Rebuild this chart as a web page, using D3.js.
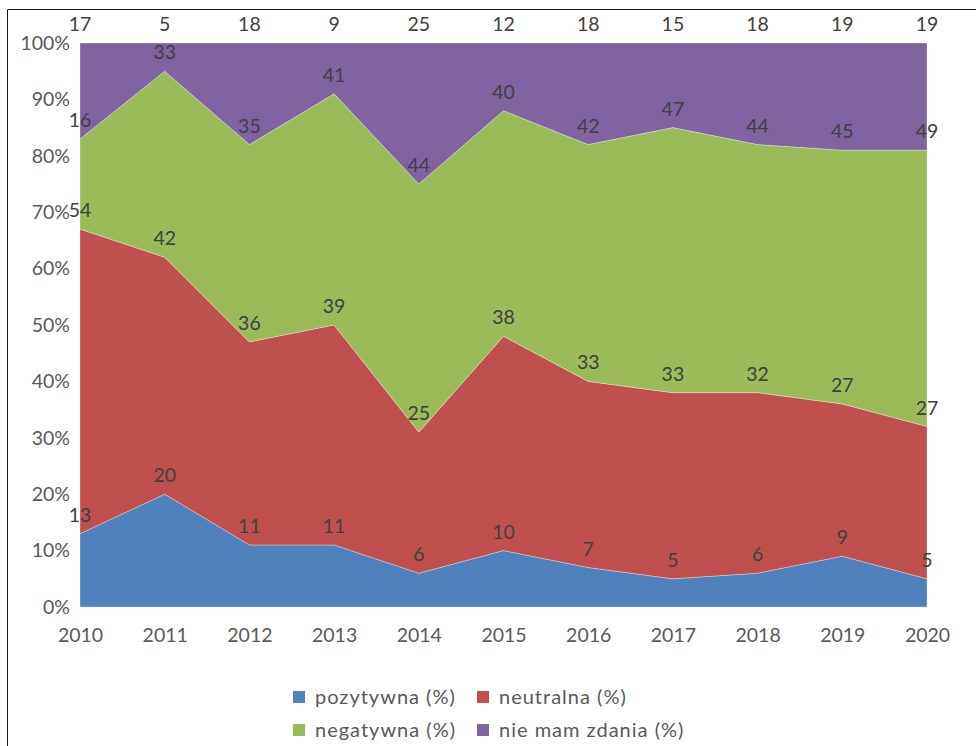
<!DOCTYPE html>
<html>
<head>
<meta charset="utf-8">
<script src="https://cdn.jsdelivr.net/npm/d3@7"></script>
<style>
  body { margin: 0; background: #fff; }
  svg { display: block; font-family: Lato, "Open Sans", sans-serif; }
</style>
</head>
<body>
<div id="chart"></div>
<script>
const years = ['2010', '2011', '2012', '2013', '2014', '2015', '2016', '2017', '2018', '2019', '2020'];
const pozytywna = [13, 20, 11, 11, 6, 10, 7, 5, 6, 9, 5];
const neutralna = [54, 42, 36, 39, 25, 38, 33, 33, 32, 27, 27];
const negatywna = [16, 33, 35, 41, 44, 40, 42, 47, 44, 45, 49];
const nieMamZdania = [17, 5, 18, 9, 25, 12, 18, 15, 18, 19, 19];
const seriesNames = ['pozytywna (%)', 'neutralna (%)', 'negatywna (%)', 'nie mam zdania (%)'];
const yTicks = [0, 10, 20, 30, 40, 50, 60, 70, 80, 90, 100];

const width = 976;
const height = 746;
const colours = ['#4f81bd', '#c0504d', '#9bbb59', '#8064a2'];
const textColour = '#595959';

const svg = d3.select('#chart')
  .append('svg')
  .attr('width', width)
  .attr('height', height);

// frame (only left and top edges are visible)
svg.append('path')
  .attr('d', 'M7.5,' + height + 'V9.5H' + width)
  .attr('fill', 'none')
  .attr('stroke', '#1a1a1a')
  .attr('stroke-width', 1);

const x = d3.scalePoint()
  .domain(years)
  .range([80, 927]);

const y = d3.scaleLinear()
  .domain([0, 100])
  .range([607, 43]);

const table = years.map((yr, i) => ({
  year: yr,
  s0: pozytywna[i],
  s1: neutralna[i],
  s2: negatywna[i],
  s3: nieMamZdania[i]
}));

const stack = d3.stack().keys(['s0', 's1', 's2', 's3']);
const layers = stack(table);

const area = d3.area()
  .x(d => x(d.data.year))
  .y0(d => y(d[0]))
  .y1(d => y(d[1]));

svg.append('g')
  .selectAll('path')
  .data(layers)
  .enter()
  .append('path')
  .attr('d', area)
  .attr('fill', (d, i) => colours[i])
  .attr('stroke', 'rgba(255,255,255,0.3)')
  .attr('stroke-width', 1);

// data labels above each band top
layers.forEach(layer => {
  svg.append('g')
    .selectAll('text')
    .data(layer)
    .enter()
    .append('text')
    .attr('x', d => x(d.data.year))
    .attr('y', d => y(d[1]) - 12)
    .attr('text-anchor', 'middle')
    .attr('fill', '#404040')
    .attr('font-size', '19.5px')
    .text(d => d.data[layer.key]);
});

// y axis
const yAxis = svg.append('g')
  .attr('transform', 'translate(80,0)')
  .call(d3.axisLeft(y).tickValues(yTicks).tickFormat(d => d + '%').tickSize(0).tickPadding(10));
yAxis.select('.domain').remove();
yAxis.selectAll('text')
  .attr('fill', textColour)
  .attr('font-size', '19.5px')
  .attr('font-family', 'Lato, "Open Sans", sans-serif');

// x axis
const xAxis = svg.append('g')
  .attr('transform', 'translate(0,607)')
  .call(d3.axisBottom(x).tickSize(0).tickPadding(21));
xAxis.select('.domain').remove();
xAxis.selectAll('text')
  .attr('fill', textColour)
  .attr('font-size', '19.5px')
  .attr('font-family', 'Lato, "Open Sans", sans-serif');

// legend
const legendPos = [[293, 697], [477, 697], [293, 730], [477, 730]];
const legend = svg.append('g')
  .selectAll('g')
  .data(seriesNames)
  .enter()
  .append('g')
  .attr('transform', (d, i) => 'translate(' + legendPos[i][0] + ',' + legendPos[i][1] + ')');
legend.append('rect')
  .attr('x', 0)
  .attr('y', -6)
  .attr('width', 12)
  .attr('height', 12)
  .attr('fill', (d, i) => colours[i]);
legend.append('text')
  .attr('x', 22)
  .attr('y', 7)
  .attr('fill', textColour)
  .attr('font-size', '20px')
  .attr('letter-spacing', '1px')
  .text(d => d);
</script>
</body>
</html>
